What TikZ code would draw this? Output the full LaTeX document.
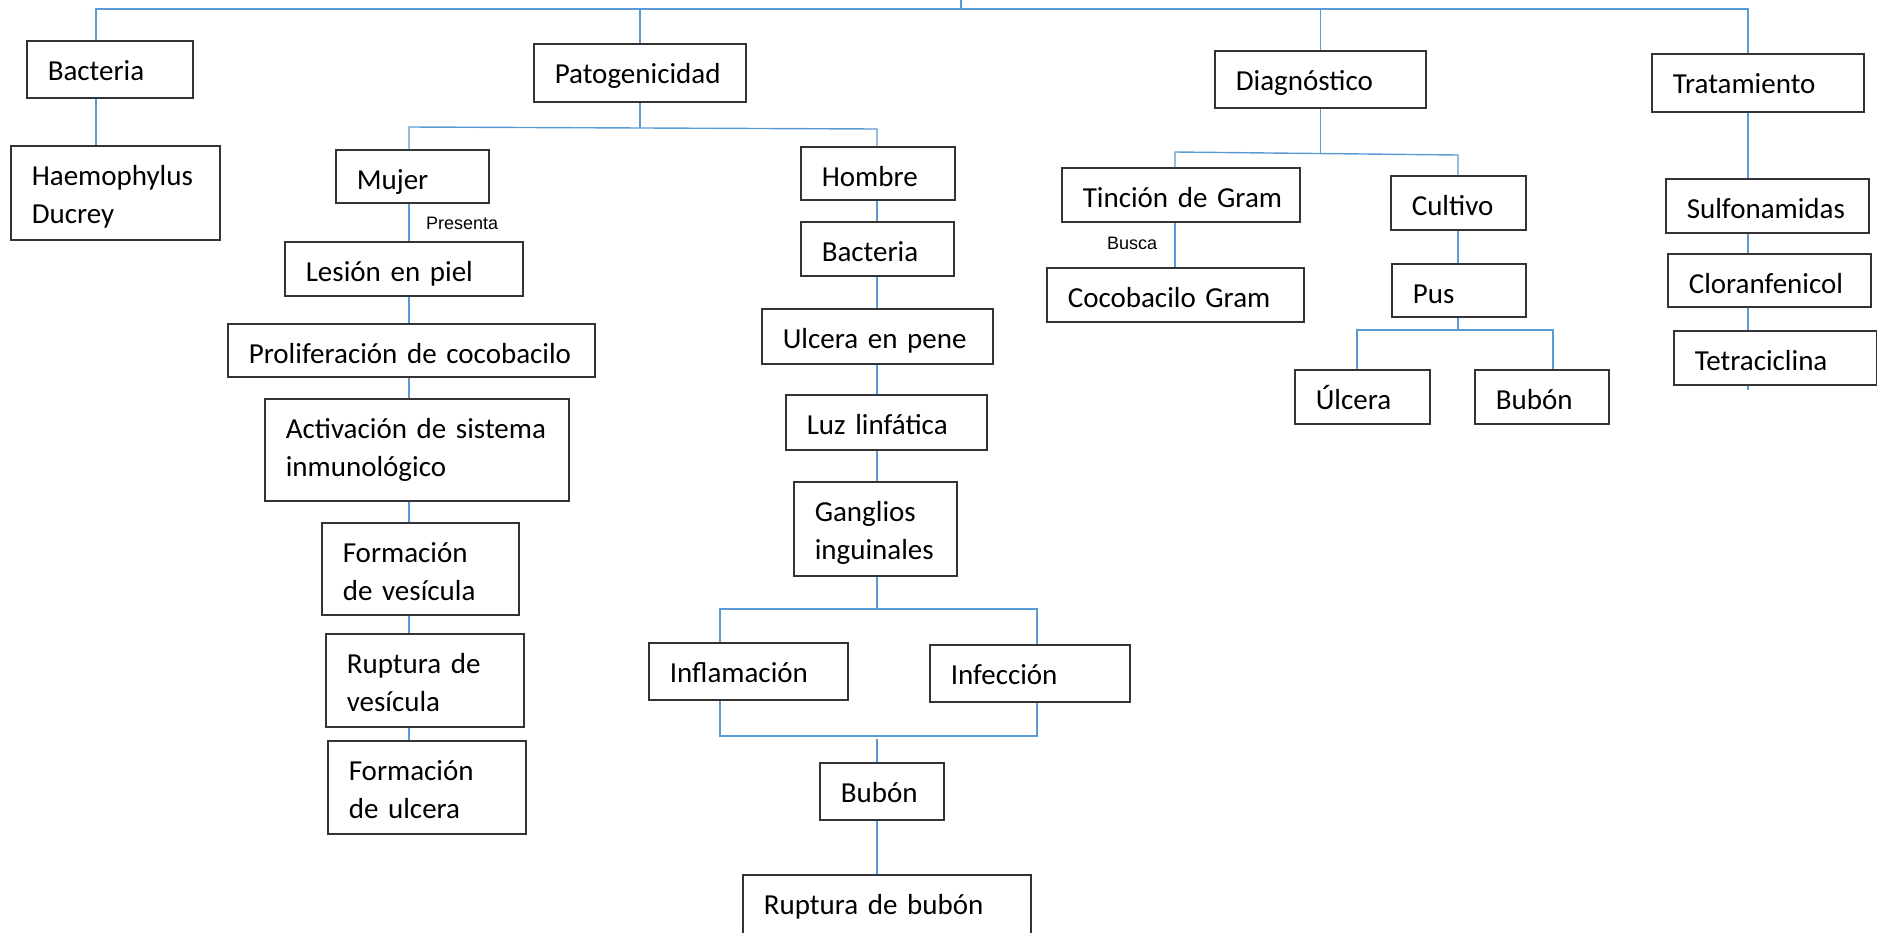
\documentclass[tikz,border=0pt]{standalone}
\usepackage{fontspec}
\setmainfont{Carlito}
\newfontfamily\arialfont{Liberation Sans}
\usepackage{xcolor}
\usetikzlibrary{calc}
\definecolor{linkblue}{RGB}{91,155,213}
\hyphenpenalty=10000
\exhyphenpenalty=10000

\newcommand{\boxfont}{\fontsize{29}{38}\selectfont}
\newcommand{\notefont}{\arialfont\fontsize{18}{21}\selectfont}

\tikzset{
    box/.style={draw=black!80, line width=1.6pt, anchor=north west, inner xsep=21pt, inner ysep=0pt,
        align=left, text height=39.5pt, font=\boxfont},
    link/.style={draw=linkblue, line width=1.4pt},
    note/.style={font=\notefont, anchor=base west, inner sep=0pt}
}

\begin{document}
\begin{tikzpicture}[x=1pt, y=-1pt]
    \useasboundingbox (0,0) rectangle (1877,932);

    % Columns and rails
    \coordinate (rail) at (0,9);
    \coordinate (mcol) at (409,0);
    \coordinate (hcol) at (877,0);
    \coordinate (tcol) at (1175,0);
    \coordinate (ccol) at (1458,0);
    \coordinate (trcol) at (1748,0);

    % Bacteria
    \node[box, text width=124pt, text depth=17.5pt] (bact) at (26,40) {Bacteria};
    \node[box, text width=167pt, text depth=54.5pt] (haem) at (10,145) {Haemophylus\\Ducrey};

    % Patogenicidad
    \node[box, text width=170pt, text depth=18.5pt] (pato) at (533,43) {Patogenicidad};
    \node[box, text width=111pt, text depth=13.5pt] (mujer) at (335,149) {Mujer};
    \node[box, text width=196pt, text depth=14.5pt] (lesion) at (284,241) {Lesión en piel};
    \node[box, text width=325pt, text depth=13.5pt] (prolif) at (227,323) {Proliferación de cocobacilo};
    \node[box, text width=262pt, text depth=62.5pt] (activ) at (264,398) {Activación de sistema\\inmunológico};
    \node[box, text width=155pt, text depth=52.5pt] (fves) at (321,522) {Formación\\de vesícula};
    \node[box, text width=156pt, text depth=53.5pt] (rves) at (325,633) {Ruptura de\\vesícula};
    \node[box, text width=156pt, text depth=53.5pt] (fulc) at (327,740) {Formación\\de ulcera};

    \node[box, text width=112pt, text depth=13.5pt] (hombre) at (800,146) {Hombre};
    \node[box, text width=111pt, text depth=14.5pt] (bact2) at (800,221) {Bacteria};
    \node[box, text width=189pt, text depth=15.5pt] (ulcp) at (761,308) {Ulcera en pene};
    \node[box, text width=159pt, text depth=15.5pt] (luz) at (785,394) {Luz linfática};
    \node[box, text width=121pt, text depth=54.5pt] (gangl) at (793,481) {Ganglios\\inguinales};
    \node[box, text width=157pt, text depth=17.5pt] (infl) at (648,642) {Inflamación};
    \node[box, text width=158pt, text depth=17.5pt] (infec) at (929,644) {Infección};
    \node[box, text width=82pt, text depth=17.5pt] (bubon) at (819,762) {Bubón};
    \node[box, text width=246pt, text depth=40.5pt] (rbubon) at (742,874) {Ruptura de bubón};

    % Diagnostico
    \node[box, text width=169pt, text depth=17.5pt] (diag) at (1214,50) {Diagnóstico};
    \node[box, text width=196pt, text depth=14.5pt] (tinc) at (1061,167) {Tinción~de~Gram};
    \node[box, text width=215pt, text depth=14.5pt] (coco) at (1046,267) {Cocobacilo Gram};
    \node[box, text width=93pt, text depth=14.5pt] (cult) at (1390,175) {Cultivo};
    \node[box, text width=92pt, text depth=13.5pt] (pus) at (1391,263) {Pus};
    \node[box, text width=93pt, text depth=14.5pt] (ulc) at (1294,369) {Úlcera};
    \node[box, text width=92pt, text depth=14.5pt] (bub2) at (1474,369) {Bubón};

    % Tratamiento
    \node[box, text width=170pt, text depth=18.5pt] (trat) at (1651,53) {Tratamiento};
    \node[box, text width=161pt, text depth=14.5pt] (sulfa) at (1665,178) {Sulfonamidas};
    \node[box, text width=161pt, text depth=13.5pt] (cloran) at (1667,253) {Cloranfenicol};
    \node[box, text width=161pt, text depth=14.5pt] (tetra) at (1673,330) {Tetraciclina};

    % Small labels
    \node[note] (presenta) at (426,229) {Presenta};
    \node[note] (busca) at (1107,249) {Busca};

    % Top rail
    \draw[link] (bact.north -| 96,0) |- (rail -| trcol) -- (trat.north -| trcol);
    \draw[link] (961,0) -- (rail -| 961,0);
    \draw[link] (pato.north) -- (pato.north |- rail);
    \draw[link] (diag.north) -- (diag.north |- rail);
    \draw[link] (bact.south -| 96,0) -- (haem.north -| 96,0);

    % Patogenicidad branches
    \draw[link] (pato.south) -- (pato.south |- 0,128);
    \draw[link] (mujer.north -| mcol) -- (409,127) -- (877,129) -- (hombre.north -| hcol);
    \foreach \a/\b in {mujer/lesion, lesion/prolif, prolif/activ, activ/fves, fves/rves, rves/fulc}
        \draw[link] (\a.south -| mcol) -- (\b.north -| mcol);
    \foreach \a/\b in {hombre/bact2, bact2/ulcp, ulcp/luz, luz/gangl}
        \draw[link] (\a.south -| hcol) -- (\b.north -| hcol);
    \draw[link] (gangl.south -| hcol) -- (hcol |- 0,609);
    \draw[link] (infl.north -| 720,0) -- (720,609) -- (1037,609) -- (infec.north -| 1037,0);
    \draw[link] (infl.south -| 720,0) -- (720,736) -- (1037,736) -- (infec.south -| 1037,0);
    \draw[link] (hcol |- 0,739) -- (bubon.north -| hcol);
    \draw[link] (bubon.south -| hcol) -- (rbubon.north -| hcol);

    % Diagnostico branches
    \draw[link] (diag.south) -- (diag.south |- 0,153);
    \draw[link] (tinc.north -| tcol) -- (1175,152) -- (1458,155) -- (cult.north -| ccol);
    \draw[link] (tinc.south -| tcol) -- (coco.north -| tcol);
    \draw[link] (cult.south -| ccol) -- (pus.north -| ccol);
    \draw[link] (pus.south -| ccol) -- (ccol |- 0,330);
    \draw[link] (ulc.north -| 1357,0) -- (1357,330) -- (1553,330) -- (bub2.north -| 1553,0);

    % Tratamiento column
    \foreach \a/\b in {trat/sulfa, sulfa/cloran, cloran/tetra}
        \draw[link] (\a.south -| trcol) -- (\b.north -| trcol);
    \draw[link] (tetra.south -| trcol) -- ++(0,4);
\end{tikzpicture}
\end{document}
